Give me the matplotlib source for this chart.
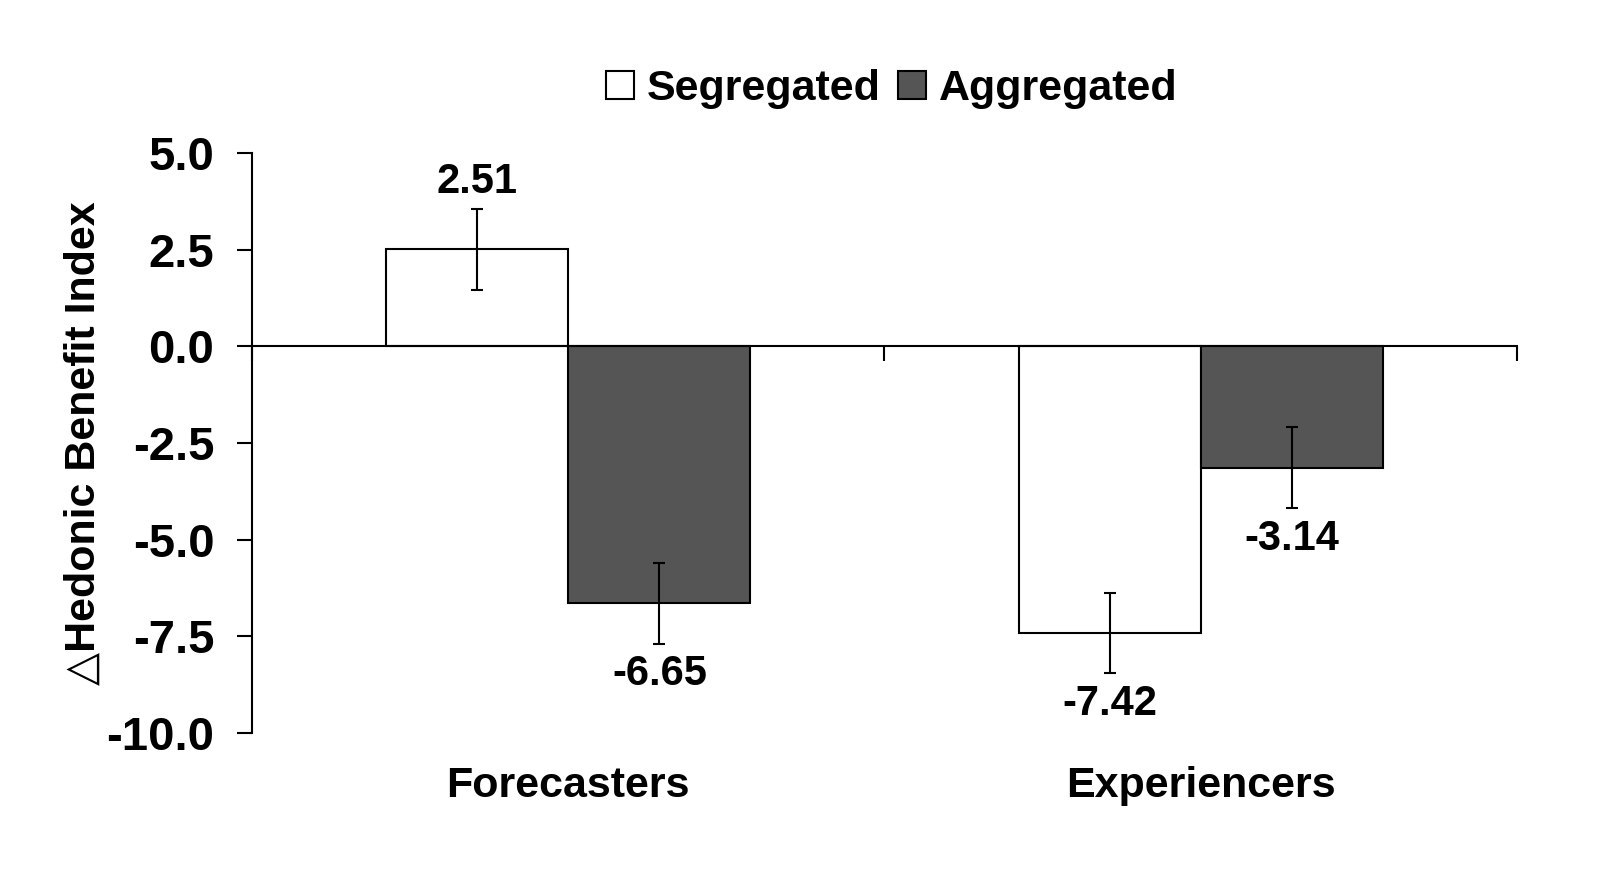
import numpy as np
import matplotlib.pyplot as plt
from matplotlib.patches import Patch

groups = ['Forecasters', 'Experiencers']
series = ['Segregated', 'Aggregated']
segregated = [2.51, -7.42]
aggregated = [-6.65, -3.14]
seg_err = [1.05, 1.04]
agg_err = [1.04, 1.05]
colors = ['white', '#555555']

plt.rcParams['font.family'] = ['Liberation Sans', 'DejaVu Sans']
plt.rcParams['font.weight'] = 'bold'

fig = plt.figure(figsize=(16, 8.82), dpi=100)
ax = fig.add_axes([0.1575, 0.1689, 0.7906, 0.6576])

centers = np.arange(len(groups)) + 0.5
w = 0.288
vals = [segregated, aggregated]
errs = [seg_err, agg_err]
for i, (v, e) in enumerate(zip(vals, errs)):
    xs = centers + (i - 0.5) * w
    ax.bar(xs, v, width=w, color=colors[i], edgecolor='black', linewidth=1.5,
           yerr=e, capsize=4, error_kw=dict(elinewidth=1.5, capthick=1.5, ecolor='black'))
    # value labels sit just past the error bar
    for x, val, er in zip(xs, v, e):
        y = val + er + 0.68 if val >= 0 else val - er - 0.78
        ax.text(x, y, f'{val:.2f}', ha='center', va='center', fontsize=30, fontweight='bold')

ax.set_xlim(0, 2)
ax.set_ylim(-10, 5)
yt = np.arange(-10, 5.1, 2.5)
ax.set_yticks(yt)
ax.set_yticklabels([f'{t:.1f}' for t in yt])
ax.tick_params(axis='y', direction='out', length=11, width=1.5, pad=16, labelsize=34)
ax.set_xticks([0, 1, 2])
ax.set_xticklabels([])
ax.tick_params(axis='x', direction='out', length=11, width=1.5)

for s in ['top', 'right']:
    ax.spines[s].set_visible(False)
ax.spines['bottom'].set_position(('data', 0))
ax.spines['bottom'].set_linewidth(1.5)
ax.spines['left'].set_linewidth(1.5)

for x, g in zip(centers, groups):
    ax.text(x, -0.0914, g, transform=ax.get_xaxis_transform(), ha='center', va='center',
            fontsize=31, fontweight='bold')

ax.set_ylabel('\u25b3Hedonic Benefit Index', fontsize=31, fontweight='bold', labelpad=2)

handles = [Patch(facecolor=c, edgecolor='black', linewidth=1.5) for c in colors]
fig.legend(handles, series, loc='center', bbox_to_anchor=(892 / 1600, 1 - 89 / 882), ncol=2,
           frameon=False, fontsize=31, handlelength=0.65, handleheight=0.65,
           handletextpad=0.3, columnspacing=0.4)

fig.savefig('out.png', dpi=100)
